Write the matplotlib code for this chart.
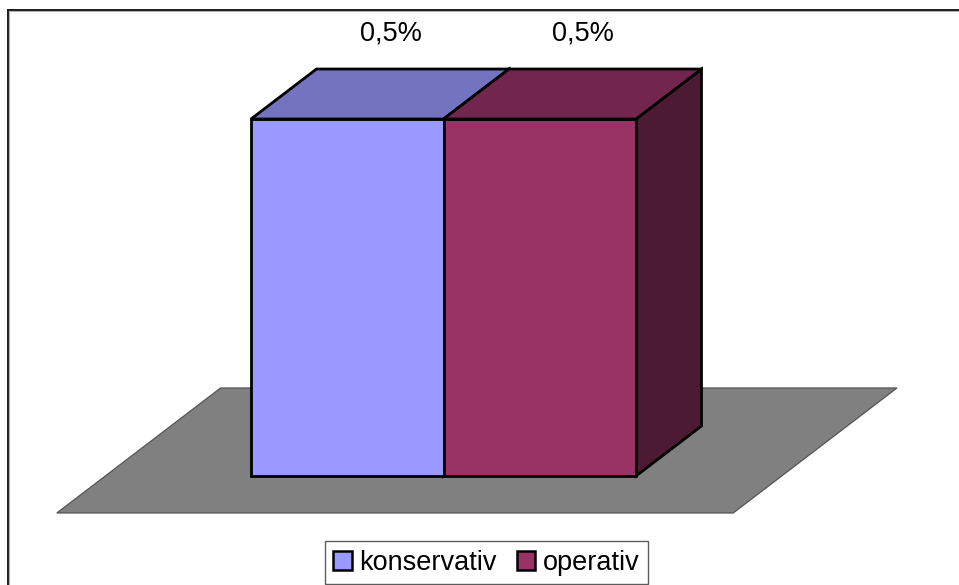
import matplotlib
matplotlib.use('Agg')
import matplotlib.pyplot as plt
from matplotlib.patches import Polygon, Patch
from matplotlib.lines import Line2D

plt.rcParams['font.family'] = ['Liberation Sans', 'DejaVu Sans']

categories = ['konservativ', 'operativ']
values = [0.5, 0.5]
value_labels = ['0,5%', '0,5%']
front_colors = ['#9999FF', '#993366']
top_colors = ['#7373BF', '#73264D']
side_colors = ['#4D4D80', '#4D1A33']

W, H = 959, 585
fig = plt.figure(figsize=(W / 100, H / 100), dpi=100)
ax = fig.add_axes([0, 0, 1, 1])
ax.set_xlim(-1.804, 3.178)
ax.set_ylim(-0.1527, 0.6667)
ax.axis('off')

# oblique projection: depth z shifts points right and up
DX, DY = 65.5 / 192.5, 50 / 714


def proj(x, y, z):
    return (x + z * DX, y + z * DY)


# floor plane
n = len(categories)
fx0, fx1 = -0.5 - 0.757, n - 0.5 + 0.757
fz0, fz1 = -0.74, 1.76
floor = [proj(fx0, 0, fz0), proj(fx1, 0, fz0), proj(fx1, 0, fz1), proj(fx0, 0, fz1)]
ax.add_patch(Polygon(floor, closed=True, facecolor='#808080',
                     edgecolor='#555555', lw=0.9, zorder=1))

# bars (unit width, touching), depth 1
lw = 2.0
for i, v in enumerate(values):
    x0, x1 = i - 0.5, i + 0.5
    side = [proj(x1, 0, 0), proj(x1, 0, 1), proj(x1, v, 1), proj(x1, v, 0)]
    front = [proj(x0, 0, 0), proj(x1, 0, 0), proj(x1, v, 0), proj(x0, v, 0)]
    top = [proj(x0, v, 0), proj(x1, v, 0), proj(x1, v, 1), proj(x0, v, 1)]
    z = 2 + i * 3
    ax.add_patch(Polygon(side, closed=True, facecolor=side_colors[i],
                         edgecolor='black', lw=lw, joinstyle='miter', zorder=z))
    ax.add_patch(Polygon(front, closed=True, facecolor=front_colors[i],
                         edgecolor='black', lw=lw, joinstyle='miter', zorder=z + 1))
    ax.add_patch(Polygon(top, closed=True, facecolor=top_colors[i],
                         edgecolor='black', lw=lw, joinstyle='miter', zorder=z + 2))
    ax.annotate(value_labels[i], xy=proj(i, v, 0.66), xytext=(0, 38),
                textcoords='offset points', ha='center', va='center',
                fontsize=19.5, color='black', zorder=20)

# legend
handles = [Patch(facecolor=c, edgecolor='black', lw=1.8) for c in front_colors]
leg = fig.legend(handles, categories, loc='center',
                 bbox_to_anchor=(486.5 / W, 1 - 562.5 / H),
                 ncol=2, fontsize=19.5, frameon=True, fancybox=False,
                 handlelength=0.67, handleheight=0.7, handletextpad=0.28,
                 columnspacing=0.75, borderpad=0.3, borderaxespad=0)
leg.get_frame().set_edgecolor('#333333')
leg.get_frame().set_linewidth(1.0)

# chart area border (top and left)
fig.add_artist(Line2D([7.5 / W, 7.5 / W], [0, 1 - 9.5 / H], color='#1a1a1a',
                      lw=1.4, transform=fig.transFigure))
fig.add_artist(Line2D([7.5 / W, 1], [1 - 9.5 / H, 1 - 9.5 / H], color='#1a1a1a',
                      lw=1.4, transform=fig.transFigure))
fig.add_artist(Line2D([9.3 / W, 9.3 / W], [0, 1 - 11 / H], color='#b0b0b0',
                      lw=0.8, transform=fig.transFigure))
fig.add_artist(Line2D([9.3 / W, 1], [1 - 11 / H, 1 - 11 / H], color='#b0b0b0',
                      lw=0.8, transform=fig.transFigure))

fig.savefig('out.png', dpi=100)
